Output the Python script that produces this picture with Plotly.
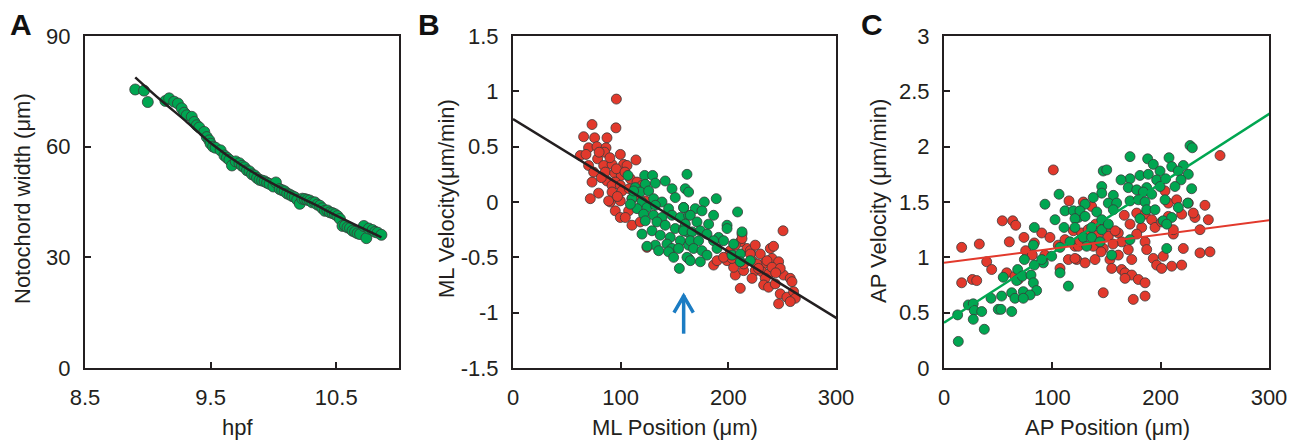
import plotly.graph_objects as go

# ---------------- Panel A data ----------------
a_x = [8.90, 8.97, 9.00, 9.14, 9.17, 9.21, 9.24, 9.27, 9.29, 9.31, 9.35, 9.37, 9.39, 9.41, 9.45,
       9.47, 9.49, 9.50, 9.52, 9.54, 9.58, 9.61, 9.63, 9.65, 9.67, 9.70, 9.73, 9.75, 9.77, 9.79,
       9.81, 9.83, 9.85, 9.87, 9.89, 9.91, 9.93, 9.95, 9.97, 10.00, 10.02, 10.05, 10.07, 10.09, 10.11,
       10.13, 10.15, 10.17, 10.19, 10.21, 10.23, 10.25, 10.27, 10.29, 10.31, 10.33, 10.35, 10.37, 10.39, 10.41,
       10.43, 10.45, 10.47, 10.49, 10.51, 10.53, 10.55, 10.57, 10.59, 10.61, 10.63, 10.65, 10.67, 10.69, 10.72,
       10.74, 10.76, 10.79, 10.81, 10.83, 10.86]
a_y = [75.5, 75.2, 72.1, 72.4, 73.1, 72.2, 71.7, 70.4, 69.2, 68.5, 68.1, 66.7, 65.8, 65.2, 64.0,
       62.6, 61.7, 60.8, 60.0, 59.7, 59.0, 57.6, 57.0, 56.4, 54.9, 56.0, 55.5, 54.8, 54.4, 53.6,
       53.3, 52.5, 52.2, 51.5, 51.0, 50.8, 50.6, 50.2, 49.9, 49.2, 50.3, 48.5, 48.2, 47.9, 47.3,
       47.0, 46.6, 46.3, 45.6, 44.5, 45.9, 45.8, 45.6, 45.4, 44.9, 44.9, 44.3, 44.0, 43.3, 42.6,
       42.7, 42.2, 42.0, 41.7, 41.2, 40.4, 38.5, 38.6, 38.1, 37.9, 37.2, 36.9, 36.5, 36.3, 38.5,
       35.2, 37.8, 37.4, 36.9, 36.7, 36.1]
a_fit_x = [8.90, 9.10, 9.30, 9.50, 9.75, 10.02, 10.30, 10.53, 10.86]
a_fit_y = [78.8, 72.7, 67.0, 61.0, 54.9, 49.5, 44.8, 40.8, 35.4]

# ---------------- Panel B data ----------------
b_red_left_x = [96, 73.4, 95.6, 65.6, 75.8, 87.3, 70.2, 78, 86.4, 62.5, 67.8, 78.6, 85, 99.7, 70.2,
                84.2, 92, 102.7, 114.2, 105.9, 74.9, 85.7, 94.4, 100.6, 73.4, 87.3, 95, 109, 115.2, 92,
                99.7, 119.8, 79.5, 92, 101.2, 71.8, 90.4, 99.7, 110.5, 122.9, 95, 107.4, 88.8, 99.7, 104.3,
                110.5, 118.2, 124.4, 80, 90, 96, 104, 82, 108, 113, 97, 118]
b_red_left_y = [0.93, 0.70, 0.67, 0.59, 0.58, 0.58, 0.49, 0.50, 0.49, 0.42, 0.43, 0.39, 0.45, 0.43, 0.33,
                0.33, 0.34, 0.34, 0.38, 0.33, 0.27, 0.27, 0.26, 0.24, 0.18, 0.19, 0.18, 0.21, 0.18, 0.15,
                0.15, 0.15, 0.08, 0.09, 0.10, 0.03, 0.00, 0.01, 0.03, 0.01, -0.08, -0.08, 0.01, -0.14, -0.14,
                -0.21, -0.18, -0.41, 0.45, 0.40, 0.30, 0.27, 0.22, 0.12, 0.06, 0.05, 0.10]
b_red_right_x = [250.8, 186.3, 189.5, 198.8, 206.5, 211.1, 214.2, 217.3, 220.4, 222, 225, 229.7, 232.8, 225, 231.3,
                 222, 239, 240.6, 245.2, 246.7, 237.4, 234.3, 232.8, 237.4, 243.6, 251.3, 257.5, 259.1, 248.2, 254.4,
                 260.6, 262.2, 257.5, 246.7, 204.9, 203.4, 214.2, 211.1, 226.6, 235.9, 240.6, 248.2, 220.4, 195.6, 201.8,
                 206.5, 212.7, 212.7, 242, 228, 244]
b_red_right_y = [-0.26, -0.57, -0.53, -0.53, -0.66, -0.78, -0.62, -0.42, -0.44, -0.53, -0.39, -0.47, -0.56, -0.62, -0.63,
                 -0.69, -0.42, -0.51, -0.59, -0.54, -0.65, -0.69, -0.75, -0.77, -0.74, -0.66, -0.69, -0.72, -0.83, -0.86,
                 -0.81, -0.87, -0.90, -0.92, -0.59, -0.51, -0.56, -0.36, -0.56, -0.53, -0.59, -0.60, -0.47, -0.50, -0.44,
                 -0.39, -0.29, -0.33, -0.40, -0.60, -0.64]
b_green_left_x = [106.8, 122.3, 129.7, 132.2, 113.6, 122.9, 141.4, 161.6, 118.2, 126, 147.7, 160, 110.5, 119.8, 130.6,
                  138.4, 150.7, 115.2, 124.5, 132.2, 144.5, 158.5, 121.3, 130.6, 138.4, 147.7, 155.4, 122.9, 133.7, 141.4,
                  150.7, 158.5, 119.8, 129.1, 136.8, 146.1, 155.4, 132.2, 143, 147.7, 135.3, 144.5, 153.8, 149.2, 154.5,
                  163.1, 163.1, 161.6, 163.1, 112, 109, 124.5]
b_green_left_y = [0.24, 0.24, 0.24, 0.17, 0.13, 0.16, 0.19, 0.25, 0.09, 0.10, 0.12, 0.12, 0.03, 0.00, 0.03,
                  0.00, 0.04, -0.06, -0.05, -0.03, -0.06, -0.05, -0.11, -0.12, -0.14, -0.12, -0.14, -0.17, -0.18, -0.21,
                  -0.24, -0.24, -0.29, -0.26, -0.30, -0.32, -0.35, -0.39, -0.38, -0.42, -0.44, -0.45, -0.42, -0.50, -0.60,
                  -0.51, -0.39, -0.27, -0.12, 0.10, -0.02, -0.40]
b_green_right_x = [163.1, 177.7, 188.8, 158.5, 169.3, 175.5, 186.3, 208.6, 164.7, 160, 170.9, 181.7, 198.8,
                   198.8, 212.7, 158.5, 166.3, 174, 180.2, 191, 164.7, 172.4, 186.3, 195.6, 204.9, 167.7, 175.5,
                   189.5, 203.4, 211.1, 161.6, 180.2, 164.7, 174, 211.1, 220.4]
b_green_right_y = [0.09, 0.00, 0.03, -0.05, -0.06, -0.08, -0.12, -0.09, -0.12, -0.20, -0.18, -0.20, -0.21,
                   -0.24, -0.27, -0.26, -0.27, -0.26, -0.29, -0.32, -0.35, -0.35, -0.35, -0.35, -0.38, -0.42, -0.44,
                   -0.42, -0.48, -0.47, -0.50, -0.48, -0.53, -0.54, -0.54, -0.53]
b_fit_x = [0, 304]
b_fit_y = [0.75, -1.07]
arrow_x = 158.5
arrow_tail_y = -1.19
arrow_tip_y = -0.85
arrow_arm_dx = 9
arrow_arm_y = -1.0

# ---------------- Panel C data ----------------
c_red_left_x = [100.9, 115.4, 53.8, 63.4, 66.2, 16.3, 32.6, 60.3, 73.8, 75.4, 81.5, 83.4, 90.2, 97.8, 93.2,
                39.4, 44, 57.9, 65.5, 26.2, 30.2, 16.3, 68.6, 107.1, 114.8, 122.5, 105.5, 111.7, 119.4, 127.1,
                120.9]
c_red_left_y = [1.79, 1.51, 1.33, 1.33, 1.29, 1.09, 1.12, 1.14, 1.18, 1.06, 1.02, 1.13, 1.22, 1.18, 1.02,
                0.96, 0.89, 0.86, 0.83, 0.80, 0.79, 0.77, 0.80, 0.90, 0.98, 0.98, 1.11, 1.16, 1.24, 1.13,
                1.10]
c_red_right_x = [254.8, 128.6, 136.3, 166.4, 177.9, 185.6, 191.7, 207.1, 204, 214.8, 219.4, 225.5, 240.9, 231.7, 244,
                 236.3, 211.7, 171.7, 182.5, 194.8, 160.9, 177.9, 185.6, 127.1, 151.7, 164, 124, 137.8, 147, 170.1,
                 187.1, 220.9, 120.9, 130.2, 139.4, 153.2, 160.9, 173.3, 193.2, 202.4, 236.3, 245.5, 154.8, 164, 196.3,
                 200.9, 210.2, 219.4, 167.1, 173.3, 179.4, 185.6, 167.1, 147, 174.7, 185.6, 230.1,
                 133, 142, 150, 156, 145, 158, 125, 140, 211.7, 207.1, 200.9]
c_red_right_y = [1.92, 1.50, 1.46, 1.38, 1.40, 1.39, 1.34, 1.49, 1.60, 1.52, 1.39, 1.49, 1.47, 1.36, 1.34,
                 1.25, 1.21, 1.30, 1.27, 1.27, 1.22, 1.21, 1.14, 1.22, 1.19, 1.14, 1.10, 1.10, 1.08, 1.07,
                 1.07, 1.08, 0.99, 0.95, 0.98, 0.98, 1.02, 0.98, 0.99, 1.01, 1.04, 1.05, 0.90, 0.89, 0.93,
                 0.90, 0.92, 0.93, 0.86, 0.84, 0.80, 0.77, 0.81, 0.68, 0.62, 0.65, 1.40,
                 1.25, 1.20, 1.28, 1.12, 1.05, 1.24, 1.15, 1.30, 1.25, 1.37, 1.32]
c_green_left_x = [106.2, 93.2, 111.7, 119.4, 102.5, 83.4, 82.5, 74.2, 91.7, 99.4, 107.1, 116.3, 107.1, 114.8, 68,
                  54.7, 67.1, 72.3, 80.3, 82.5, 85.5, 62.5, 73.2, 79.4, 65.5, 73.2, 53.2, 43.4, 50.1, 52.6,
                  62.5, 22.5, 27, 28, 34.8, 27, 12.6, 37.2, 13.2, 83.4, 90.2, 110.8, 124]
c_green_left_y = [1.57, 1.48, 1.42, 1.42, 1.34, 1.27, 1.11, 0.98, 0.95, 1.01, 1.09, 1.14, 0.86, 0.74, 0.89,
                  0.82, 0.79, 0.83, 0.84, 0.77, 0.70, 0.68, 0.69, 0.66, 0.63, 0.63, 0.65, 0.63, 0.53, 0.53,
                  0.51, 0.57, 0.58, 0.52, 0.51, 0.44, 0.48, 0.35, 0.24, 0.93, 0.98, 1.27, 1.36]
c_green_right_x = [227.1, 229.2, 171.7, 188, 207.7, 193.2, 147, 150.2, 210.2, 220.9, 199.4, 216.3, 180.9, 188.6, 171.7,
                   163.4, 196.3, 204.6, 225.5, 218.8, 145.6, 170.1, 177.9, 187.1, 199.4, 213.2, 228.6, 145.6, 156.3, 184,
                   191.7, 137.8, 151.7, 159.4, 171.7, 179.4, 185.6, 204, 225, 130.2, 156.3, 187.1, 194.8, 216.3, 125.5,
                   141, 120.9, 130.2, 145.6, 180.9, 202.4, 210.2, 120.9, 136.3, 145.6, 151.7, 205.6, 128.6, 136.3, 144,
                   171.7, 131.7, 154.8, 205.6]
c_green_right_y = [2.01, 1.99, 1.91, 1.89, 1.90, 1.84, 1.78, 1.79, 1.82, 1.83, 1.78, 1.78, 1.74, 1.75, 1.71,
                   1.70, 1.70, 1.71, 1.75, 1.70, 1.64, 1.63, 1.61, 1.63, 1.64, 1.64, 1.62, 1.58, 1.56, 1.59,
                   1.57, 1.54, 1.49, 1.49, 1.51, 1.52, 1.50, 1.52, 1.49, 1.48, 1.43, 1.43, 1.43, 1.45, 1.42,
                   1.41, 1.35, 1.37, 1.34, 1.35, 1.33, 1.36, 1.27, 1.27, 1.25, 1.30, 1.30, 1.18, 1.18, 1.14,
                   1.16, 1.10, 1.02, 1.08]
c_green_fit_x = [0, 304]
c_green_fit_y = [0.41, 2.32]
c_red_fit_x = [0, 304]
c_red_fit_y = [0.95, 1.34]

# tick labels
a_xticks = [8.5, 9.5, 10.5]
a_yticks = [0, 30, 60, 90]
b_xticks = [0, 100, 200, 300]
b_yticks = [1.5, 1, 0.5, 0, -0.5, -1, -1.5]
b_yticktext = ["1.5", "1", "0.5", "0", "-0.5", "-1", "-1.5"]
c_xticks = [0, 100, 200, 300]
c_yticks = [0, 0.5, 1, 1.5, 2, 2.5, 3]
c_yticktext = ["0", "0.5", "1", "1.5", "2", "2.5", "3"]

# ---------------- styling ----------------
W, H = 1296, 440
GREEN = "#00a651"
RED = "#e2392c"
INK = "#231f20"
FONT = "Liberation Sans, Arial, sans-serif"
MK = dict(line=dict(color="#3a3a3a", width=0.8))


def px_x(p):
    return p / W


def px_y(p):
    return 1 - p / H


fig = go.Figure()

# Panel A
fig.add_trace(go.Scatter(x=a_x, y=a_y, mode="markers", xaxis="x", yaxis="y",
                         marker=dict(size=11, color=GREEN, **MK), showlegend=False))
fig.add_trace(go.Scatter(x=a_fit_x, y=a_fit_y, mode="lines", xaxis="x", yaxis="y",
                         line=dict(color=INK, width=2.5, shape="spline"), showlegend=False))

# Panel B
for xs, ys, c in [(b_red_left_x, b_red_left_y, RED), (b_red_right_x, b_red_right_y, RED),
                  (b_green_left_x, b_green_left_y, GREEN), (b_green_right_x, b_green_right_y, GREEN)]:
    fig.add_trace(go.Scatter(x=xs, y=ys, mode="markers", xaxis="x2", yaxis="y2",
                             marker=dict(size=10, color=c, **MK), showlegend=False))
fig.add_trace(go.Scatter(x=b_fit_x, y=b_fit_y, mode="lines", xaxis="x2", yaxis="y2",
                         line=dict(color=INK, width=2.5), showlegend=False))

# Panel C
for xs, ys, c in [(c_red_left_x, c_red_left_y, RED), (c_red_right_x, c_red_right_y, RED),
                  (c_green_left_x, c_green_left_y, GREEN), (c_green_right_x, c_green_right_y, GREEN)]:
    fig.add_trace(go.Scatter(x=xs, y=ys, mode="markers", xaxis="x3", yaxis="y3",
                             marker=dict(size=10, color=c, **MK), showlegend=False))
fig.add_trace(go.Scatter(x=c_green_fit_x, y=c_green_fit_y, mode="lines", xaxis="x3", yaxis="y3",
                         line=dict(color=GREEN, width=2.5), showlegend=False))
fig.add_trace(go.Scatter(x=c_red_fit_x, y=c_red_fit_y, mode="lines", xaxis="x3", yaxis="y3",
                         line=dict(color=RED, width=2), showlegend=False))

ydom = [px_y(368), px_y(36)]
common = dict(showgrid=False, zeroline=False, showline=True, mirror=True, linewidth=2, linecolor=INK,
              ticks="inside", ticklen=6, tickwidth=2, tickcolor=INK, automargin=False,
              tickfont=dict(family=FONT, size=22, color=INK))
xcommon = dict(common, ticklabelstandoff=9)
ycommon = dict(common, ticklabelstandoff=8)

fig.update_layout(
    width=W, height=H, autosize=False,
    margin=dict(l=0, r=0, t=0, b=0, pad=0, autoexpand=False),
    paper_bgcolor="white", plot_bgcolor="white",
    xaxis=dict(xcommon, domain=[px_x(85), px_x(399)], range=[8.5, 11], tickvals=a_xticks,
               ticktext=["8.5", "9.5", "10.5"], anchor="y"),
    yaxis=dict(ycommon, domain=ydom, range=[0, 90], tickvals=a_yticks, anchor="x"),
    xaxis2=dict(xcommon, domain=[px_x(513), px_x(836)], range=[0, 300], tickvals=b_xticks, anchor="y2"),
    yaxis2=dict(ycommon, domain=ydom, range=[-1.5, 1.5], tickvals=b_yticks, ticktext=b_yticktext, anchor="x2"),
    xaxis3=dict(xcommon, domain=[px_x(944), px_x(1269)], range=[0, 300], tickvals=c_xticks, anchor="y3"),
    yaxis3=dict(ycommon, domain=ydom, range=[0, 3], tickvals=c_yticks, ticktext=c_yticktext, anchor="x3"),
)

# blue arrow in B
ARROW = "#1b7cc3"
fig.add_shape(type="line", xref="x2", yref="y2", x0=arrow_x, x1=arrow_x, y0=arrow_tail_y, y1=arrow_tip_y + 0.01,
              line=dict(color=ARROW, width=3.5))
fig.add_shape(type="path", xref="x2", yref="y2",
              path=f"M {arrow_x - arrow_arm_dx},{arrow_arm_y} L {arrow_x},{arrow_tip_y} L {arrow_x + arrow_arm_dx},{arrow_arm_y}",
              line=dict(color=ARROW, width=3.5))

# text annotations
tf = dict(family=FONT, size=22, color=INK)
lf = dict(family=FONT, size=30, color="#111")
annos = [
    dict(text="<b>A</b>", x=px_x(21), y=px_y(25), font=lf),
    dict(text="<b>B</b>", x=px_x(429), y=px_y(25), font=lf),
    dict(text="<b>C</b>", x=px_x(872), y=px_y(25), font=lf),
    dict(text="Notochord width (μm)", x=px_x(22), y=px_y(199), textangle=-90, font=tf),
    dict(text="hpf", x=px_x(237), y=px_y(427), font=tf),
    dict(text="ML Velocity(μm/min)", x=px_x(447), y=px_y(198), textangle=-90, font=tf),
    dict(text="ML Position (μm)", x=px_x(675), y=px_y(427), font=tf),
    dict(text="AP Velocity (μm/min)", x=px_x(878), y=px_y(201), textangle=-90, font=tf),
    dict(text="AP Position (μm)", x=px_x(1107), y=px_y(427), font=tf),
]
for a in annos:
    fig.add_annotation(xref="paper", yref="paper", showarrow=False, xanchor="center", yanchor="middle", **a)

fig.write_html(
    "out.html",
    config={"displayModeBar": False},
    post_script="document.body.style.margin='0';document.body.style.padding='0';"
                "document.documentElement.style.overflow='hidden';",
)
